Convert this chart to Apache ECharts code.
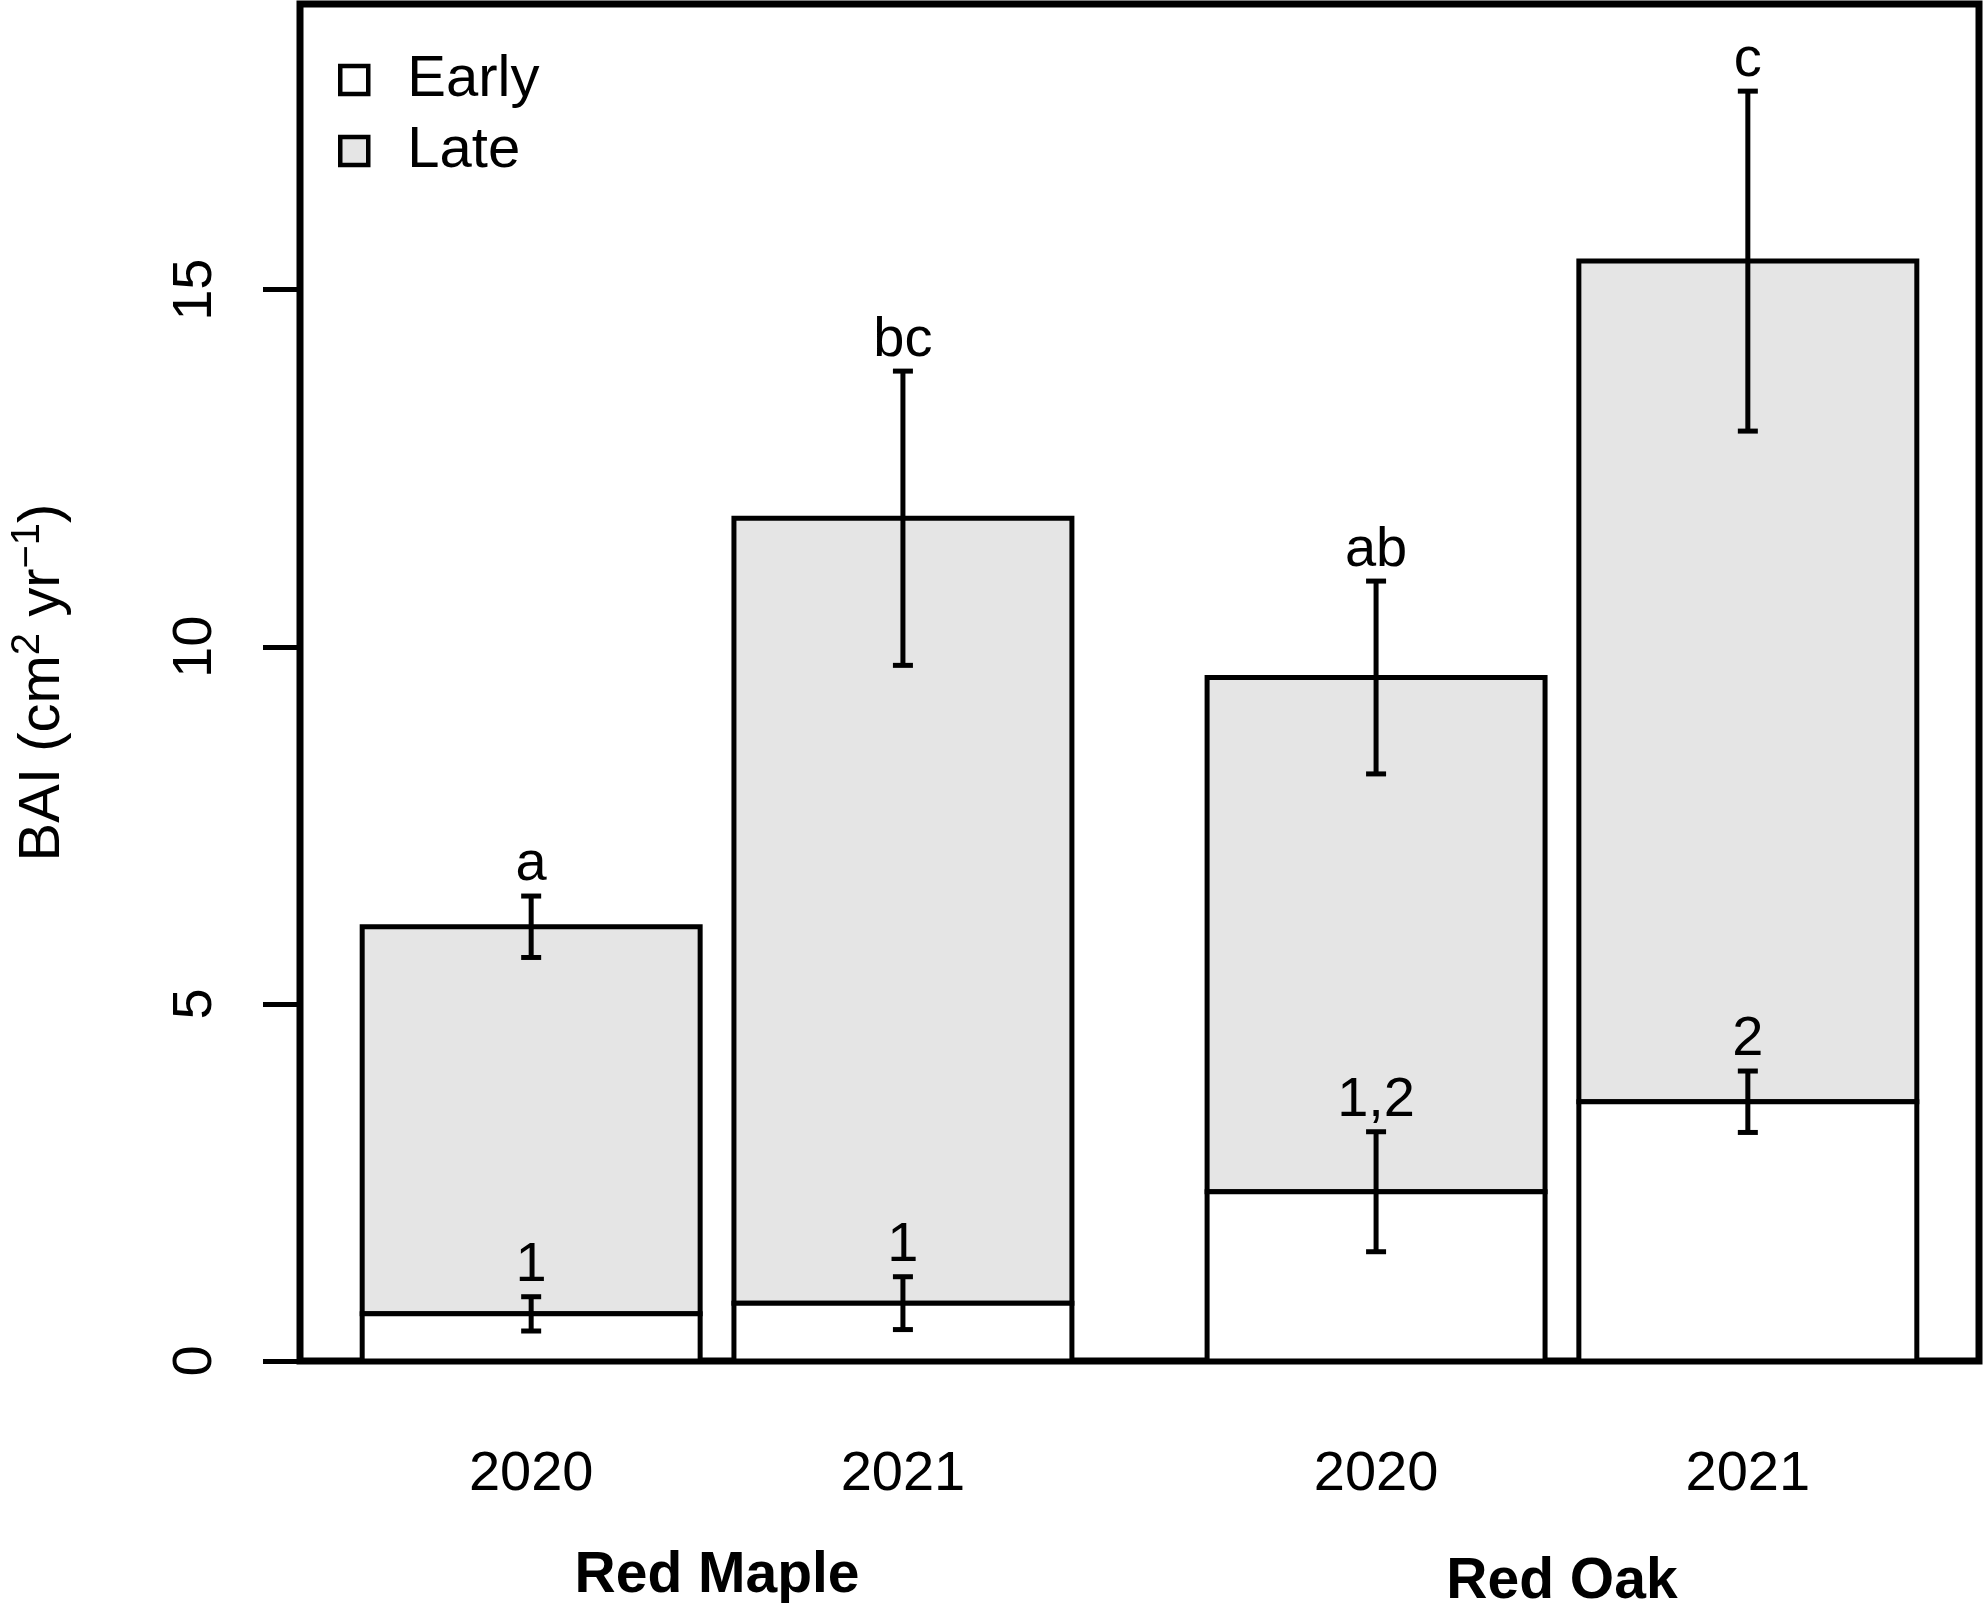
<!DOCTYPE html>
<html lang="en">
<head>
<meta charset="UTF-8">
<title>BAI early / late wood</title>
<script src="https://cdn.jsdelivr.net/npm/echarts@6/dist/echarts.min.js"></script>
<style>
  html, body { margin: 0; padding: 0; background: #fff; }
  #chart { width: 1983px; height: 1603px; }
</style>
</head>
<body>
<div id="chart"></div>
<script>
// bar midpoints in barplot units (width 1, spaces 0.2 / 0.1 / 0.4 / 0.1)
var barMid = [0.7, 1.8, 3.2, 4.3];
var yearLabels = ['2020', '2021', '2020', '2021'];
var groupMid = [1.25, 3.75];
var groupLabels = ['Red Maple', 'Red Oak'];

// BAI, cm2 per year
var earlyMean = [0.66, 0.81, 2.37, 3.63];
var earlySE = [0.24, 0.37, 0.84, 0.43];
var totalMean = [6.08, 11.80, 9.57, 15.40];
var totalSE = [0.43, 2.06, 1.35, 2.38];

var earlyLetters = ['1', '1', '1,2', '2'];
var totalLetters = ['a', 'bc', 'ab', 'c'];

var yTicks = [0, 5, 10, 15];

var FONT = 'Liberation Sans';

var chart = echarts.init(document.getElementById('chart'));

function pick(list, values, v) {
    for (var i = 0; i < values.length; i++) {
        if (Math.abs(values[i] - v) < 1e-6) return list[i];
    }
    return '';
}

// stacked rect: value(0)=mid, value(1)=bottom, value(2)=top
function renderBar(params, api) {
    var x = api.value(0);
    var p0 = api.coord([x - 0.5, api.value(1)]);
    var p1 = api.coord([x + 0.5, api.value(2)]);
    return {
        type: 'rect',
        shape: { x: p0[0], y: p1[1], width: p1[0] - p0[0], height: p0[1] - p1[1] },
        style: { fill: api.visual('color'), stroke: '#000', lineWidth: 5 }
    };
}

function makeErrRender(letters) {
    return function (params, api) {
        var x = api.value(0);
        var m = api.value(1), se = api.value(2);
        var top = api.coord([x, m + se]);
        var bot = api.coord([x, m - se]);
        var cap = 10;
        var ls = { stroke: '#000', lineWidth: 5 };
        return {
            type: 'group',
            children: [
                { type: 'line', shape: { x1: top[0], y1: top[1], x2: bot[0], y2: bot[1] }, style: ls },
                { type: 'line', shape: { x1: top[0] - cap, y1: top[1], x2: top[0] + cap, y2: top[1] }, style: ls },
                { type: 'line', shape: { x1: bot[0] - cap, y1: bot[1], x2: bot[0] + cap, y2: bot[1] }, style: ls },
                {
                    type: 'text',
                    style: {
                        text: letters[params.dataIndex], x: top[0], y: top[1] - 3,
                        align: 'center', verticalAlign: 'bottom',
                        fontSize: 56, fontFamily: FONT, fill: '#000'
                    }
                }
            ]
        };
    };
}

var earlyData = barMid.map(function (x, i) { return [x, 0, earlyMean[i]]; });
var lateData = barMid.map(function (x, i) { return [x, earlyMean[i], totalMean[i]]; });
var earlyErr = barMid.map(function (x, i) { return [x, earlyMean[i], earlySE[i]]; });
var totalErr = barMid.map(function (x, i) { return [x, totalMean[i], totalSE[i]]; });

var option = {
    animation: false,
    textStyle: { fontFamily: FONT, color: '#000' },
    grid: {
        left: 300, top: 4, right: 4, bottom: 242,
        show: true, borderColor: '#000', borderWidth: 7,
        containLabel: false, outerBoundsMode: 'none'
    },
    legend: {
        orient: 'vertical', left: 333, top: 45,
        icon: 'rect', itemWidth: 28, itemHeight: 28, itemGap: 11,
        selectedMode: false,
        textStyle: { fontSize: 58, color: '#000', fontFamily: FONT, lineHeight: 60, padding: [0, 0, 0, 34] },
        data: [
            { name: 'Early', itemStyle: { color: '#ffffff', borderColor: '#000', borderWidth: 4.5 } },
            { name: 'Late', itemStyle: { color: '#e5e5e5', borderColor: '#000', borderWidth: 4.5 } }
        ]
    },
    xAxis: [
        {
            type: 'value', min: 0.016, max: 4.984, position: 'bottom',
            axisLine: { show: false }, axisTick: { show: false }, splitLine: { show: false },
            axisLabel: {
                customValues: barMid, margin: 86, fontSize: 56, color: '#000', fontFamily: FONT,
                formatter: function (v) { return pick(yearLabels, barMid, v); }
            }
        },
        {
            type: 'value', min: 0.016, max: 4.984, position: 'bottom',
            axisLine: { show: false }, axisTick: { show: false }, splitLine: { show: false },
            axisLabel: {
                customValues: groupMid, margin: 187, fontSize: 57, fontWeight: 'bold', color: '#000', fontFamily: FONT,
                formatter: function (v) {
                    var s = pick(groupLabels, groupMid, v);
                    return s === 'Red Oak' ? '{o|' + s + '}' : s;
                },
                rich: { o: { fontSize: 57, fontWeight: 'bold', fontFamily: FONT, color: '#000', padding: [6, 0, 0, 0] } }
            }
        }
    ],
    yAxis: {
        type: 'value', min: 0, max: 19,
        axisLine: { show: false }, splitLine: { show: false },
        axisTick: { show: true, customValues: yTicks, length: 37, lineStyle: { color: '#000', width: 5 } },
        axisLabel: { customValues: yTicks, rotate: 90, margin: 76, fontSize: 56, color: '#000', fontFamily: FONT },
        name: '{t|BAI (cm}{s|2}{t| yr}{s|\u22121}{t|)}',
        nameLocation: 'middle', nameRotate: 90, nameGap: 228,
        nameTextStyle: {
            rich: {
                t: { fontSize: 58, lineHeight: 64, verticalAlign: 'bottom', fontFamily: FONT, color: '#000' },
                s: { fontSize: 40, lineHeight: 40, verticalAlign: 'top', padding: [0, 0, 30, 0], fontFamily: FONT, color: '#000' }
            }
        }
    },
    series: [
        {
            name: 'Late', type: 'custom', renderItem: renderBar, data: lateData,
            itemStyle: { color: '#e5e5e5', borderColor: '#000', borderWidth: 4 },
            encode: { x: 0, y: [1, 2] }, z: 2
        },
        {
            name: 'Early', type: 'custom', renderItem: renderBar, data: earlyData,
            itemStyle: { color: '#ffffff', borderColor: '#000', borderWidth: 4 },
            encode: { x: 0, y: [1, 2] }, z: 3
        },
        {
            name: 'totalErr', type: 'custom', renderItem: makeErrRender(totalLetters), data: totalErr,
            encode: { x: 0, y: 1 }, z: 5
        },
        {
            name: 'earlyErr', type: 'custom', renderItem: makeErrRender(earlyLetters), data: earlyErr,
            encode: { x: 0, y: 1 }, z: 5
        }
    ]
};

chart.setOption(option);
</script>
</body>
</html>
